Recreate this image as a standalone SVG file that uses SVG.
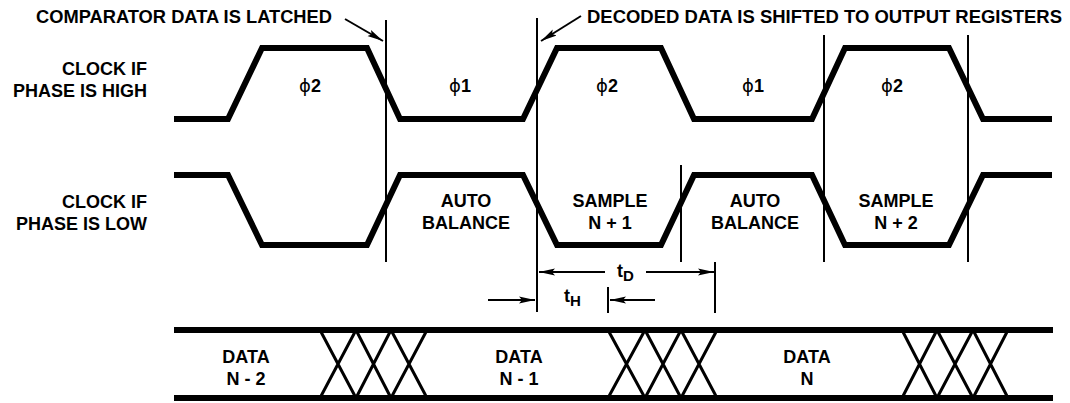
<svg xmlns="http://www.w3.org/2000/svg" width="1070" height="403" viewBox="0 0 1070 403">
<defs>
<style>
.t{font-family:"Liberation Sans","Arial",sans-serif;font-weight:bold;font-size:18px;fill:#000}
.m{text-anchor:middle}
.e{text-anchor:end}
.ph{font-family:"DejaVu Sans","Liberation Sans",sans-serif;font-weight:normal;font-size:18px}
.wave{fill:none;stroke:#000;stroke-width:6;stroke-linejoin:miter}
.bus{fill:none;stroke:#000;stroke-width:6}
.x{fill:none;stroke:#000;stroke-width:3}
.v{stroke:#000;stroke-width:2}
.ar{stroke:#000;stroke-width:2;fill:none}
</style>
<marker id="ah" viewBox="0 0 16 8" refX="16" refY="4" markerWidth="16" markerHeight="8" markerUnits="userSpaceOnUse" orient="auto">
<path d="M0,0.5 L16,4 L0,7.5 L3,4 Z" fill="#000"/>
</marker>
</defs>
<rect width="1070" height="403" fill="#fff"/>

<g id="label-top-left">
<text class="t" x="36" y="23" textLength="296" lengthAdjust="spacingAndGlyphs">COMPARATOR DATA IS LATCHED</text>
</g>
<g id="label-top-right">
<text class="t" x="587" y="23" textLength="475" lengthAdjust="spacingAndGlyphs">DECODED DATA IS SHIFTED TO OUTPUT REGISTERS</text>
</g>

<g id="row-high-label">
<text class="t e" x="147" y="75">CLOCK IF</text>
<text class="t e" x="147" y="97">PHASE IS HIGH</text>
</g>
<g id="row-low-label">
<text class="t e" x="147" y="208">CLOCK IF</text>
<text class="t e" x="147" y="230">PHASE IS LOW</text>
</g>

<g id="clock-high">
<path class="wave" d="M174,119 L228,119 L262,48 L367,48 L400,119 L523,119 L557,48 L661,48 L694,119 L812,119 L845,48 L949,48 L983,119 L1052,119"/>
<text class="t m" x="310" y="92"><tspan class="ph">ϕ</tspan>2</text>
<text class="t m" x="460" y="92"><tspan class="ph">ϕ</tspan>1</text>
<text class="t m" x="607" y="92"><tspan class="ph">ϕ</tspan>2</text>
<text class="t m" x="753" y="92"><tspan class="ph">ϕ</tspan>1</text>
<text class="t m" x="892" y="92"><tspan class="ph">ϕ</tspan>2</text>
</g>

<g id="clock-low">
<path class="wave" d="M174,175 L228,175 L262,245 L367,245 L400,175 L523,175 L557,245 L661,245 L694,175 L812,175 L845,245 L949,245 L983,175 L1052,175"/>
<text class="t m" x="466" y="207">AUTO</text>
<text class="t m" x="466" y="229">BALANCE</text>
<text class="t m" x="610" y="207">SAMPLE</text>
<text class="t m" x="610" y="229">N + 1</text>
<text class="t m" x="755" y="207">AUTO</text>
<text class="t m" x="755" y="229">BALANCE</text>
<text class="t m" x="896" y="207">SAMPLE</text>
<text class="t m" x="896" y="229">N + 2</text>
</g>

<g id="data-bus">
<path class="bus" d="M174,330 L1053,330 M174,398 L1053,398"/>
<path class="x" d="M320,330 L356,398 M356,330 L320,398 M356,330 L391,398 M391,330 L356,398 M391,330 L427,398 M427,330 L391,398"/>
<path class="x" d="M608,330 L645,398 M645,330 L608,398 M645,330 L681,398 M681,330 L645,398 M681,330 L717,398 M717,330 L681,398"/>
<path class="x" d="M902,330 L937,398 M937,330 L902,398 M937,330 L973,398 M973,330 L937,398 M973,330 L1008,398 M1008,330 L973,398"/>
<text class="t m" x="246" y="363">DATA</text>
<text class="t m" x="246" y="385">N - 2</text>
<text class="t m" x="519" y="363">DATA</text>
<text class="t m" x="519" y="385">N - 1</text>
<text class="t m" x="807" y="363">DATA</text>
<text class="t m" x="807" y="385">N</text>
</g>

<g id="connectors">
<line class="v" x1="386" y1="20" x2="386" y2="262"/>
<line class="v" x1="537" y1="18" x2="537" y2="312"/>
<line class="v" x1="681" y1="165" x2="681" y2="262"/>
<line class="v" x1="824" y1="35" x2="824" y2="262"/>
<line class="v" x1="968" y1="35" x2="968" y2="262"/>
<line class="v" x1="715" y1="262" x2="715" y2="313"/>
<line class="v" x1="608" y1="287" x2="608" y2="313"/>
<line class="ar" x1="345" y1="19" x2="383" y2="41" marker-end="url(#ah)"/>
<line class="ar" x1="581" y1="16" x2="541" y2="41" marker-end="url(#ah)"/>
<line class="ar" x1="605" y1="272" x2="539" y2="272" marker-end="url(#ah)"/>
<line class="ar" x1="646" y1="272" x2="714" y2="272" marker-end="url(#ah)"/>
<line class="ar" x1="488" y1="300" x2="535" y2="300" marker-end="url(#ah)"/>
<line class="ar" x1="655" y1="300" x2="610" y2="300" marker-end="url(#ah)"/>
<text class="t" x="617" y="277">t<tspan font-size="15" dy="4">D</tspan></text>
<text class="t" x="564" y="302">t<tspan font-size="15" dy="4">H</tspan></text>
</g>
</svg>
